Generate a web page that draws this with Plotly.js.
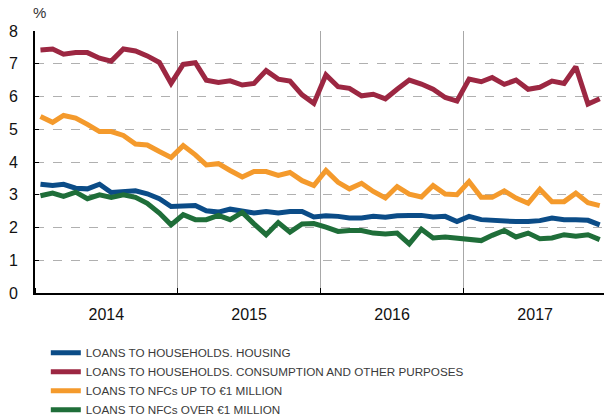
<!DOCTYPE html>
<html>
<head>
<meta charset="utf-8">
<script src="https://cdn.plot.ly/plotly-3.0.1.min.js"></script>
<style>html,body{margin:0;padding:0;background:#fff}#chart{width:604px;height:419px}</style>
</head>
<body>
<div id="chart"></div>
<script>
// Monthly observations, Jan 2014 - Dec 2017
const years = [2014, 2015, 2016, 2017];
const seriesNames = [
  "LOANS TO HOUSEHOLDS. HOUSING",
  "LOANS TO HOUSEHOLDS. CONSUMPTION AND OTHER PURPOSES",
  "LOANS TO NFCs UP TO €1 MILLION",
  "LOANS TO NFCs OVER €1 MILLION"
];
const housing = [
  3.32,3.28,3.32,3.20,3.18,3.32,3.07,3.08,3.12,3.03,2.88,2.64,
  2.64,2.67,2.51,2.47,2.56,2.51,2.44,2.49,2.44,2.49,2.49,2.32,
  2.36,2.34,2.29,2.29,2.34,2.31,2.36,2.37,2.37,2.32,2.34,2.18,
  2.34,2.24,2.21,2.21,2.18,2.18,2.21,2.29,2.24,2.24,2.22,2.08
];
const consumption = [
  7.42,7.45,7.29,7.34,7.34,7.17,7.08,7.45,7.39,7.24,7.04,6.40,
  6.98,7.03,6.50,6.43,6.48,6.35,6.40,6.79,6.53,6.47,6.05,5.79,
  6.66,6.30,6.25,6.02,6.07,5.93,6.22,6.50,6.38,6.22,5.97,5.86,
  6.53,6.45,6.58,6.37,6.50,6.22,6.28,6.47,6.40,6.91,5.77,5.93
];
const nfcSmall = [
  5.39,5.21,5.42,5.34,5.15,4.93,4.93,4.81,4.55,4.52,4.32,4.14,
  4.50,4.22,3.91,3.95,3.74,3.54,3.71,3.71,3.59,3.68,3.43,3.28,
  3.74,3.38,3.18,3.35,3.10,2.90,3.25,3.02,2.93,3.28,3.02,3.00,
  3.40,2.92,2.92,3.12,2.90,2.74,3.17,2.79,2.79,3.05,2.76,2.67
];
const nfcLarge = [
  2.97,3.05,2.95,3.08,2.88,3.00,2.92,3.00,2.92,2.74,2.44,2.08,
  2.39,2.24,2.24,2.37,2.24,2.46,2.11,1.78,2.15,1.86,2.11,2.12,
  2.01,1.88,1.91,1.91,1.83,1.80,1.83,1.50,1.95,1.68,1.71,1.68,
  1.65,1.60,1.76,1.91,1.71,1.83,1.66,1.68,1.78,1.73,1.78,1.63
];
const yTicks = [0,1,2,3,4,5,6,7,8];

const colors = ["#0b4c87", "#9c2742", "#f49a2c", "#1f6e39"];

const dates = [];
years.forEach(y => {
  for (let m = 1; m <= 12; m++) dates.push(y + "-" + String(m).padStart(2, "0") + "-15");
});

const allSeries = [housing, consumption, nfcSmall, nfcLarge];
const traces = allSeries.map((vals, i) => ({
  type: "scatter",
  mode: "lines",
  x: dates,
  y: vals,
  name: seriesNames[i],
  line: {color: colors[i], width: 5}
}));

const layout = {
  width: 604,
  height: 419,
  margin: {l: 35, r: 0, t: 31, b: 126},
  paper_bgcolor: "#fff",
  plot_bgcolor: "#fff",
  font: {family: "Liberation Sans, Arial, sans-serif", color: "#111"},
  showlegend: true,
  legend: {
    x: 0.019, xanchor: "left",
    yref: "container",
    y: 0.193, yanchor: "top",
    font: {family: "Liberation Sans, Arial, sans-serif", size: 11.7, color: "#3a3a3a"},
    bgcolor: "rgba(0,0,0,0)",
    tracegroupgap: 0,
    itemwidth: 30
  },
  xaxis: {
    type: "date",
    range: ["2014-01-01", "2017-12-26"],
    tick0: "2014-01-01",
    dtick: "M12",
    tickformat: "%Y",
    ticklabelmode: "period",
    ticks: "inside",
    ticklen: 5,
    tickcolor: "#000",
    tickwidth: 1,
    showgrid: true,
    gridcolor: "#a8a8a8",
    gridwidth: 1,
    showline: true,
    linecolor: "#000",
    linewidth: 1.5,
    zeroline: false,
    tickfont: {size: 16, color: "#111"},
    ticklabelstandoff: 6,
    fixedrange: true
  },
  yaxis: {
    range: [0, 8],
    tickvals: yTicks,
    ticktext: yTicks.map(String),
    ticks: "inside",
    ticklen: 4,
    tickcolor: "#000",
    showgrid: true,
    gridcolor: "#b0b0b0",
    griddash: "dash",
    gridwidth: 1,
    showline: true,
    linecolor: "#000",
    linewidth: 2,
    zeroline: false,
    ticklabelstandoff: 12,
    tickfont: {size: 16, color: "#111"},
    fixedrange: true
  },
  annotations: [{
    text: "%",
    xref: "paper", yref: "paper",
    x: 0, y: 1,
    xanchor: "left", yanchor: "bottom",
    xshift: -4, yshift: 8,
    showarrow: false,
    font: {size: 15, color: "#333"}
  }]
};

Plotly.newPlot("chart", traces, layout, {displayModeBar: false, staticPlot: true});
</script>
</body>
</html>
